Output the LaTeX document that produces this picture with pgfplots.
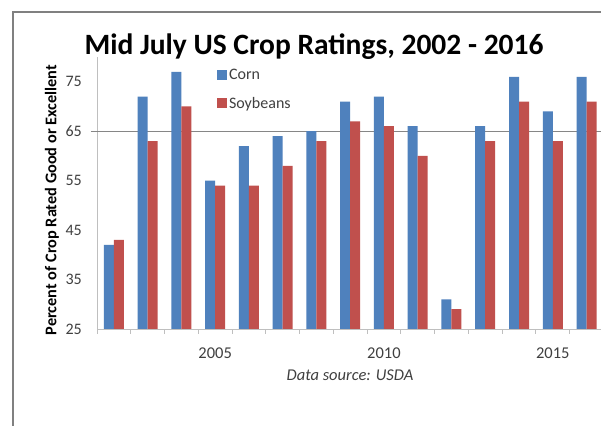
\documentclass[border=0pt]{standalone}
\usepackage{pgfplots}
\pgfplotsset{compat=1.18}
\usepackage{fontspec}
\setmainfont{Carlito}
\definecolor{corn}{HTML}{4F81BD}
\definecolor{soy}{HTML}{C0504D}
\definecolor{axgray}{HTML}{BFBFBF}
\definecolor{gridc}{HTML}{868686}
\definecolor{txt}{HTML}{404040}
\begin{document}
\begin{tikzpicture}[x=1pt,y=1pt]
\useasboundingbox (0,0) rectangle (601,425);
\clip (0,0) rectangle (601,425);
\fill[white] (0,0) rectangle (601,425);
\draw[gray, line width=2pt] (12.5,-5) -- (12.5,412.5) -- (610,412.5);
\node[anchor=base, font=\bfseries\fontsize{29.5}{34}\selectfont] at (314,370) {Mid July US Crop Ratings, 2002 - 2016};
\node[anchor=base, font=\itshape\fontsize{16.5}{20}\selectfont, text=txt] at (350,45) {Data source: USDA};
\begin{axis}[
  at={(97pt,96pt)}, anchor=south west,
  scale only axis, width=506.4pt, height=272pt,
  xmin=-0.5, xmax=14.5, ymin=25, ymax=80,
  axis x line*=bottom, axis y line*=left,
  axis line style={draw=axgray, line width=0.8pt},
  ybar=0pt, bar width=10pt,
  xtick={3,8,13}, xticklabels={2005,2010,2015},
  minor xtick={-0.5,0.5,...,14.5},
  ytick={25,35,...,75},
  extra y ticks={65}, extra y tick labels={},
  extra y tick style={grid=major, major tick length=6pt, major grid style={draw=gridc, line width=0.8pt}, tick style={draw=gridc, line width=0.8pt}},
  major tick length=0pt, minor tick length=5pt,
  tick align=outside,
  tick style={draw=axgray, line width=0.8pt},
  /pgf/number format/assume math mode=true,
  xticklabel style={font=\fontsize{16.5}{20}\selectfont, text=txt, anchor=base, yshift=-29pt},
  yticklabel style={font=\fontsize{16}{19}\selectfont, text=txt, anchor=east, inner sep=0pt, xshift=-15pt},
  every axis y label/.style={at={(axis description cs:-0.0889,0.474)}, rotate=90, anchor=center, font=\bfseries\fontsize{16.3}{19}\selectfont},
  ylabel={Percent of Crop Rated Good or Excellent},
  legend style={at={(axis cs:3.05,78.0)}, anchor=north west, draw=none, fill=none, inner sep=0pt, row sep=12pt, font=\fontsize{16}{19}\selectfont, text=txt},
  legend cell align=left,
]
\addplot[fill=corn, draw=none, legend image code/.code={\fill[corn] (0pt,-5pt) rectangle (10pt,5pt);}] coordinates {
 (0,42) (1,72) (2,77) (3,55) (4,62) (5,64) (6,65) (7,71) (8,72) (9,66) (10,31) (11,66) (12,76) (13,69) (14,76)};
\addplot[fill=soy, draw=none, legend image code/.code={\fill[soy] (0pt,-5pt) rectangle (10pt,5pt);}] coordinates {
 (0,43) (1,63) (2,70) (3,54) (4,54) (5,58) (6,63) (7,67) (8,66) (9,60) (10,29) (11,63) (12,71) (13,63) (14,71)};
\legend{Corn,Soybeans}
\end{axis}
\end{tikzpicture}
\end{document}
